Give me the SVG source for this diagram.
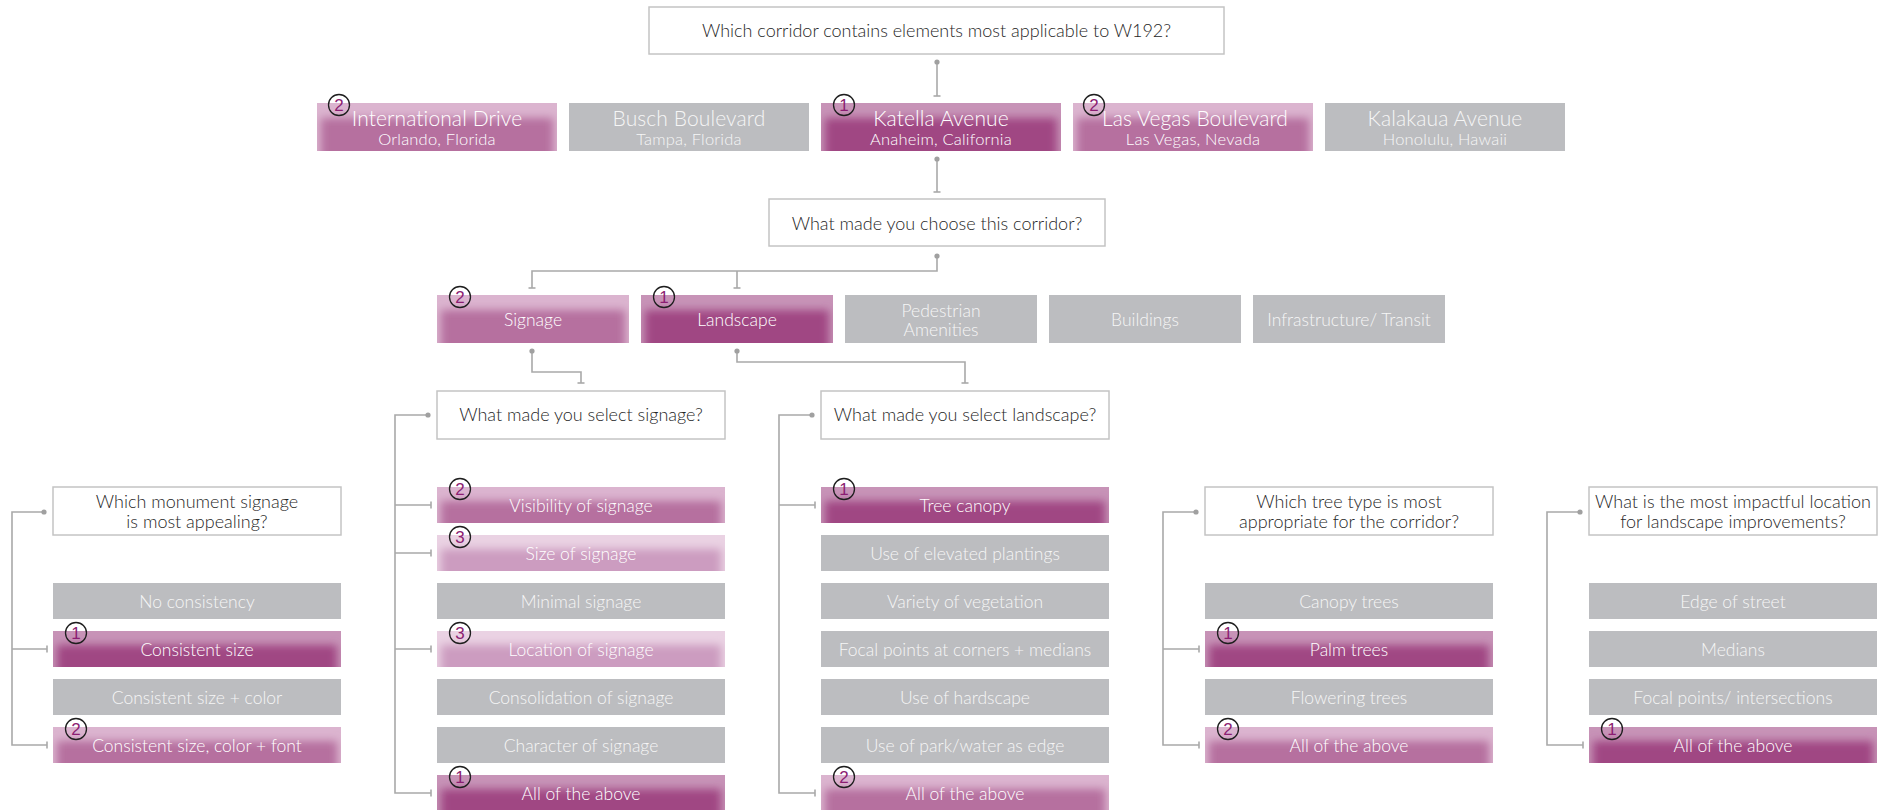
<svg xmlns="http://www.w3.org/2000/svg" width="1881" height="810" viewBox="0 0 1881 810">
  <style>
    .q { fill: #ffffff; stroke: #c4c4c4; stroke-width: 1.5; }
    .qt { font-family: Lato, "Liberation Sans", sans-serif; font-weight: 300; font-size: 18px; fill: #262626; text-anchor: middle; }
    .gray { fill: #bcbdc0; }
    .ot { font-family: Lato, "Liberation Sans", sans-serif; font-weight: 300; font-size: 17.5px; fill: #f6f6f6; text-anchor: middle; }
    .pt { fill: #ffffff; }
    .tt { font-family: Lato, "Liberation Sans", sans-serif; font-weight: 300; font-size: 21px; letter-spacing: 0.1px; text-anchor: middle; }
    .st { font-family: Lato, "Liberation Sans", sans-serif; font-weight: 300; font-size: 16.5px; letter-spacing: 0.2px; text-anchor: middle; }
    .r1b { fill: #c793b7; } .r1s { fill: #a04683; }
    .r2b { fill: #dbb4cf; } .r2s { fill: #b6709f; }
    .r3b { fill: #ead2e3; } .r3s { fill: #cc9cc0; }
    .badge circle { fill: none; stroke: #1e1e1e; stroke-width: 1.3; }
    .badge text { font-family: "Liberation Sans", Arial, sans-serif; font-size: 17px; fill: #8c1d72; text-anchor: middle; }
    .conn path { fill: none; stroke: #a9a9a9; stroke-width: 1.6; }
  </style>
  <defs>
    <filter id="soft" x="-20%" y="-80%" width="140%" height="260%"><feGaussianBlur stdDeviation="4"/></filter>
    <marker id="dot" markerUnits="userSpaceOnUse" markerWidth="8" markerHeight="8" refX="4" refY="4" viewBox="0 0 8 8"><circle cx="4" cy="4" r="2.6" fill="#a0a0a0"/></marker>
    <marker id="tick" markerUnits="userSpaceOnUse" markerWidth="4" markerHeight="10" refX="2" refY="5" orient="auto" viewBox="0 0 4 10"><path d="M2,1.5 V8.5" stroke="#a9a9a9" stroke-width="1.6"/></marker>
    <!-- shaded fills, drawn inside nested svg viewports that clip them to the box -->
    <g id="w240r1"><rect class="r1b" width="240" height="48"/><rect class="r1s" x="4" y="15" width="232" height="45" filter="url(#soft)"/></g>
    <g id="w240r2"><rect class="r2b" width="240" height="48"/><rect class="r2s" x="4" y="15" width="232" height="45" filter="url(#soft)"/></g>
    <g id="w192r1"><rect class="r1b" width="192" height="48"/><rect class="r1s" x="4" y="15" width="184" height="45" filter="url(#soft)"/></g>
    <g id="w192r2"><rect class="r2b" width="192" height="48"/><rect class="r2s" x="4" y="15" width="184" height="45" filter="url(#soft)"/></g>
    <g id="w288r1"><rect class="r1b" width="288" height="36"/><rect class="r1s" x="4" y="14" width="280" height="34" filter="url(#soft)"/></g>
    <g id="w288r2"><rect class="r2b" width="288" height="36"/><rect class="r2s" x="4" y="14" width="280" height="34" filter="url(#soft)"/></g>
    <g id="w288r3"><rect class="r3b" width="288" height="36"/><rect class="r3s" x="4" y="14" width="280" height="34" filter="url(#soft)"/></g>
  </defs>

  <rect width="1881" height="810" fill="#ffffff"/>

  <!-- connectors -->
  <g id="connectors" class="conn">
    <path d="M937,62 V96" marker-start="url(#dot)" marker-end="url(#tick)"/>
    <path d="M937,159 V192" marker-start="url(#dot)" marker-end="url(#tick)"/>
    <path d="M937,256 V271 H532 V288" marker-start="url(#dot)" marker-end="url(#tick)"/>
    <path d="M737,271 V288" marker-end="url(#tick)"/>
    <path d="M532,351 V372 H581 V383" marker-start="url(#dot)" marker-end="url(#tick)"/>
    <path d="M737,351 V362 H965 V383" marker-start="url(#dot)" marker-end="url(#tick)"/>

    <path d="M44,512 H12 V745 H47" marker-start="url(#dot)" marker-end="url(#tick)"/>
    <path d="M12,649 H47" marker-end="url(#tick)"/>

    <path d="M428,415 H395 V793 H431" marker-start="url(#dot)" marker-end="url(#tick)"/>
    <path d="M395,505 H431" marker-end="url(#tick)"/>
    <path d="M395,553 H431" marker-end="url(#tick)"/>
    <path d="M395,649 H431" marker-end="url(#tick)"/>

    <path d="M812,415 H779 V793 H815" marker-start="url(#dot)" marker-end="url(#tick)"/>
    <path d="M779,505 H815" marker-end="url(#tick)"/>

    <path d="M1196,512 H1163 V745 H1199" marker-start="url(#dot)" marker-end="url(#tick)"/>
    <path d="M1163,649 H1199" marker-end="url(#tick)"/>

    <path d="M1580,512 H1547 V745 H1583" marker-start="url(#dot)" marker-end="url(#tick)"/>
  </g>

  <!-- top question -->
  <g id="q-corridor">
    <rect class="q" x="649" y="7" width="575" height="47"/>
    <text class="qt" x="936.5" y="37">Which corridor contains elements most applicable to W192?</text>
  </g>

  <!-- corridors -->
  <g id="c-international">
    <svg x="317" y="103" width="240" height="48" overflow="hidden"><use href="#w240r2"/></svg>
    <text class="tt pt" x="437" y="126">International Drive</text>
    <text class="st pt" x="437" y="145">Orlando, Florida</text>
    <g class="badge"><circle cx="339" cy="105" r="10.5"/><text x="339" y="111">2</text></g>
  </g>
  <g id="c-busch">
    <rect class="gray" x="569" y="103" width="240" height="48"/>
    <text class="tt" fill="#f6f6f6" x="689" y="126">Busch Boulevard</text>
    <text class="st" fill="#f6f6f6" x="689" y="145">Tampa, Florida</text>
  </g>
  <g id="c-katella">
    <svg x="821" y="103" width="240" height="48" overflow="hidden"><use href="#w240r1"/></svg>
    <text class="tt pt" x="941" y="126">Katella Avenue</text>
    <text class="st pt" x="941" y="145">Anaheim, California</text>
    <g class="badge"><circle cx="844" cy="105" r="10.5"/><text x="844" y="111">1</text></g>
  </g>
  <g id="c-lasvegas">
    <svg x="1073" y="103" width="240" height="48" overflow="hidden"><use href="#w240r2"/></svg>
    <text class="tt pt" x="1195" y="126">Las Vegas Boulevard</text>
    <text class="st pt" x="1193" y="145">Las Vegas, Nevada</text>
    <g class="badge"><circle cx="1094" cy="105" r="10.5"/><text x="1094" y="111">2</text></g>
  </g>
  <g id="c-kalakaua">
    <rect class="gray" x="1325" y="103" width="240" height="48"/>
    <text class="tt" fill="#f6f6f6" x="1445" y="126">Kalakaua Avenue</text>
    <text class="st" fill="#f6f6f6" x="1445" y="145">Honolulu, Hawaii</text>
  </g>

  <!-- second question -->
  <g id="q-why">
    <rect class="q" x="769" y="199" width="336" height="47"/>
    <text class="qt" x="937" y="230">What made you choose this corridor?</text>
  </g>

  <!-- reasons -->
  <g id="r-signage">
    <svg x="437" y="295" width="192" height="48" overflow="hidden"><use href="#w192r2"/></svg>
    <text class="ot pt" x="533" y="326">Signage</text>
    <g class="badge"><circle cx="460" cy="297" r="10.5"/><text x="460" y="303">2</text></g>
  </g>
  <g id="r-landscape">
    <svg x="641" y="295" width="192" height="48" overflow="hidden"><use href="#w192r1"/></svg>
    <text class="ot pt" x="737" y="326">Landscape</text>
    <g class="badge"><circle cx="664" cy="297" r="10.5"/><text x="664" y="303">1</text></g>
  </g>
  <g id="r-pedestrian">
    <rect class="gray" x="845" y="295" width="192" height="48"/>
    <text class="ot" x="941" y="317">Pedestrian</text>
    <text class="ot" x="941" y="336">Amenities</text>
  </g>
  <g id="r-buildings">
    <rect class="gray" x="1049" y="295" width="192" height="48"/>
    <text class="ot" x="1145" y="326">Buildings</text>
  </g>
  <g id="r-infrastructure">
    <rect class="gray" x="1253" y="295" width="192" height="48"/>
    <text class="ot" x="1349" y="326">Infrastructure/ Transit</text>
  </g>

  <!-- monument signage -->
  <g id="q-monument">
    <rect class="q" x="53" y="487" width="288" height="48"/>
    <text class="qt" x="197" y="508">Which monument signage</text>
    <text class="qt" x="197" y="528">is most appealing?</text>
  </g>
  <g id="m-none">
    <rect class="gray" x="53" y="583" width="288" height="36"/>
    <text class="ot" x="197" y="608">No consistency</text>
  </g>
  <g id="m-size">
    <svg x="53" y="631" width="288" height="36" overflow="hidden"><use href="#w288r1"/></svg>
    <text class="ot pt" x="197" y="656">Consistent size</text>
    <g class="badge"><circle cx="76" cy="633" r="10.5"/><text x="76" y="639">1</text></g>
  </g>
  <g id="m-size-color">
    <rect class="gray" x="53" y="679" width="288" height="36"/>
    <text class="ot" x="197" y="704">Consistent size + color</text>
  </g>
  <g id="m-size-color-font">
    <svg x="53" y="727" width="288" height="36" overflow="hidden"><use href="#w288r2"/></svg>
    <text class="ot pt" x="197" y="752">Consistent size, color + font</text>
    <g class="badge"><circle cx="76" cy="729" r="10.5"/><text x="76" y="735">2</text></g>
  </g>

  <!-- signage -->
  <g id="q-signage">
    <rect class="q" x="437" y="391" width="288" height="48"/>
    <text class="qt" x="581" y="421">What made you select signage?</text>
  </g>
  <g id="s-visibility">
    <svg x="437" y="487" width="288" height="36" overflow="hidden"><use href="#w288r2"/></svg>
    <text class="ot pt" x="581" y="512">Visibility of signage</text>
    <g class="badge"><circle cx="460" cy="489" r="10.5"/><text x="460" y="495">2</text></g>
  </g>
  <g id="s-size">
    <svg x="437" y="535" width="288" height="36" overflow="hidden"><use href="#w288r3"/></svg>
    <text class="ot pt" x="581" y="560">Size of signage</text>
    <g class="badge"><circle cx="460" cy="537" r="10.5"/><text x="460" y="543">3</text></g>
  </g>
  <g id="s-minimal">
    <rect class="gray" x="437" y="583" width="288" height="36"/>
    <text class="ot" x="581" y="608">Minimal signage</text>
  </g>
  <g id="s-location">
    <svg x="437" y="631" width="288" height="36" overflow="hidden"><use href="#w288r3"/></svg>
    <text class="ot pt" x="581" y="656">Location of signage</text>
    <g class="badge"><circle cx="460" cy="633" r="10.5"/><text x="460" y="639">3</text></g>
  </g>
  <g id="s-consolidation">
    <rect class="gray" x="437" y="679" width="288" height="36"/>
    <text class="ot" x="581" y="704">Consolidation of signage</text>
  </g>
  <g id="s-character">
    <rect class="gray" x="437" y="727" width="288" height="36"/>
    <text class="ot" x="581" y="752">Character of signage</text>
  </g>
  <g id="s-all">
    <svg x="437" y="775" width="288" height="36" overflow="hidden"><use href="#w288r1"/></svg>
    <text class="ot pt" x="581" y="800">All of the above</text>
    <g class="badge"><circle cx="460" cy="777" r="10.5"/><text x="460" y="783">1</text></g>
  </g>

  <!-- landscape -->
  <g id="q-landscape">
    <rect class="q" x="821" y="391" width="288" height="48"/>
    <text class="qt" x="965" y="421">What made you select landscape?</text>
  </g>
  <g id="l-canopy">
    <svg x="821" y="487" width="288" height="36" overflow="hidden"><use href="#w288r1"/></svg>
    <text class="ot pt" x="965" y="512">Tree canopy</text>
    <g class="badge"><circle cx="844" cy="489" r="10.5"/><text x="844" y="495">1</text></g>
  </g>
  <g id="l-elevated">
    <rect class="gray" x="821" y="535" width="288" height="36"/>
    <text class="ot" x="965" y="560">Use of elevated plantings</text>
  </g>
  <g id="l-variety">
    <rect class="gray" x="821" y="583" width="288" height="36"/>
    <text class="ot" x="965" y="608">Variety of vegetation</text>
  </g>
  <g id="l-focal">
    <rect class="gray" x="821" y="631" width="288" height="36"/>
    <text class="ot" x="965" y="656">Focal points at corners + medians</text>
  </g>
  <g id="l-hardscape">
    <rect class="gray" x="821" y="679" width="288" height="36"/>
    <text class="ot" x="965" y="704">Use of hardscape</text>
  </g>
  <g id="l-edge">
    <rect class="gray" x="821" y="727" width="288" height="36"/>
    <text class="ot" x="965" y="752">Use of park/water as edge</text>
  </g>
  <g id="l-all">
    <svg x="821" y="775" width="288" height="36" overflow="hidden"><use href="#w288r2"/></svg>
    <text class="ot pt" x="965" y="800">All of the above</text>
    <g class="badge"><circle cx="844" cy="777" r="10.5"/><text x="844" y="783">2</text></g>
  </g>

  <!-- tree type -->
  <g id="q-tree">
    <rect class="q" x="1205" y="487" width="288" height="48"/>
    <text class="qt" x="1349" y="508">Which tree type is most</text>
    <text class="qt" x="1349" y="528">appropriate for the corridor?</text>
  </g>
  <g id="t-canopy">
    <rect class="gray" x="1205" y="583" width="288" height="36"/>
    <text class="ot" x="1349" y="608">Canopy trees</text>
  </g>
  <g id="t-palm">
    <svg x="1205" y="631" width="288" height="36" overflow="hidden"><use href="#w288r1"/></svg>
    <text class="ot pt" x="1349" y="656">Palm trees</text>
    <g class="badge"><circle cx="1228" cy="633" r="10.5"/><text x="1228" y="639">1</text></g>
  </g>
  <g id="t-flowering">
    <rect class="gray" x="1205" y="679" width="288" height="36"/>
    <text class="ot" x="1349" y="704">Flowering trees</text>
  </g>
  <g id="t-all">
    <svg x="1205" y="727" width="288" height="36" overflow="hidden"><use href="#w288r2"/></svg>
    <text class="ot pt" x="1349" y="752">All of the above</text>
    <g class="badge"><circle cx="1228" cy="729" r="10.5"/><text x="1228" y="735">2</text></g>
  </g>

  <!-- landscape location -->
  <g id="q-location">
    <rect class="q" x="1589" y="487" width="288" height="48"/>
    <text class="qt" x="1733" y="508">What is the most impactful location</text>
    <text class="qt" x="1733" y="528">for landscape improvements?</text>
  </g>
  <g id="p-edge">
    <rect class="gray" x="1589" y="583" width="288" height="36"/>
    <text class="ot" x="1733" y="608">Edge of street</text>
  </g>
  <g id="p-medians">
    <rect class="gray" x="1589" y="631" width="288" height="36"/>
    <text class="ot" x="1733" y="656">Medians</text>
  </g>
  <g id="p-focal">
    <rect class="gray" x="1589" y="679" width="288" height="36"/>
    <text class="ot" x="1733" y="704">Focal points/ intersections</text>
  </g>
  <g id="p-all">
    <svg x="1589" y="727" width="288" height="36" overflow="hidden"><use href="#w288r1"/></svg>
    <text class="ot pt" x="1733" y="752">All of the above</text>
    <g class="badge"><circle cx="1612" cy="729" r="10.5"/><text x="1612" y="735">1</text></g>
  </g>
</svg>
